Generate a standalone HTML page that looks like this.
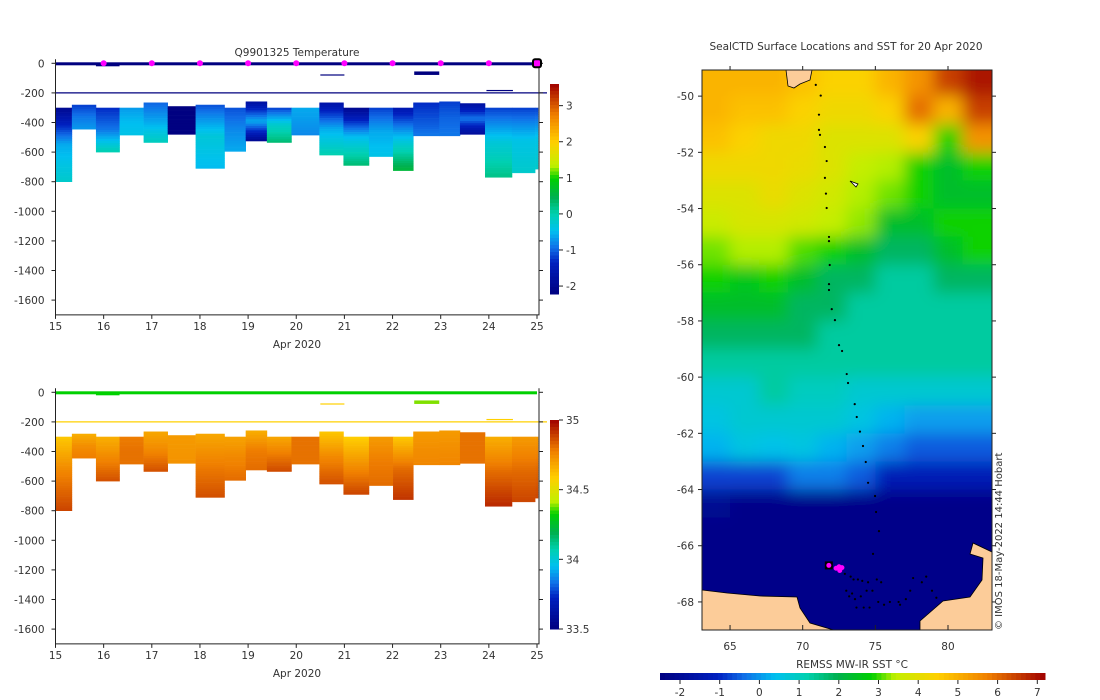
<!DOCTYPE html>
<html><head><meta charset="utf-8"><style>
body{margin:0;background:#fff}
svg{display:block;font-family:"DejaVu Sans","Liberation Sans",sans-serif}
text{fill:#333;font-size:10.5px}
</style></head><body>
<svg id="root" width="1100" height="700" viewBox="0 0 1100 700" xmlns="http://www.w3.org/2000/svg">
<defs>
<clipPath id="mapclip"><rect x="702" y="70" width="290" height="560"/></clipPath>
<filter id="blur" x="-5%" y="-5%" width="110%" height="110%"><feGaussianBlur stdDeviation="8"/></filter>
</defs>
<g id="temp"></g>
<g id="sal"></g>
<g id="map"></g>
</svg>
<script>
// ---- profile data ----
const profStart=[15,15.34,15.84,16.33,16.83,17.33,17.91,18.51,18.95,19.39,19.9,20.48,20.98,21.51,22.01,22.43,22.97,23.4,23.92,24.48,24.96];
const profEnd=[15.34,15.84,16.33,16.83,17.33,17.91,18.51,18.95,19.39,19.9,20.48,20.98,21.51,22.01,22.43,22.97,23.4,23.92,24.48,24.96,25.02];
const profTop=[-300,-280,-300,-300,-265,-290,-280,-300,-258,-300,-300,-265,-300,-300,-300,-265,-258,-270,-300,-300,-300];
const profBottom=[-800,-445,-600,-485,-535,-480,-710,-595,-525,-535,-485,-620,-690,-630,-725,-490,-490,-480,-770,-740,-715];
const tempTop=[-2,-1.2,-1.3,-0.7,-1.0,-2.2,-1.1,-1.1,-1.8,-1.2,-0.6,-1.7,-2.0,-1.2,-1.6,-1.3,-1.2,-1.8,-1.2,-1.2,-1.2];
const tempMid=[-0.6,-0.9,-0.9,-0.5,-0.6,-2.2,-0.3,-0.8,-0.6,-0.2,-0.7,-0.6,-0.5,-0.6,-0.4,-1.1,-1.0,-0.9,-0.3,-0.4,-0.4];
const tempBot=[-0.2,-0.7,0,-0.4,-0.1,-2.2,-0.5,-0.6,-2.0,0.3,-0.8,0,0.3,-0.4,0.6,-0.9,-0.9,-1.9,0.2,-0.2,-0.2];
const salTop=[34.6,34.66,34.66,34.78,34.68,34.71,34.68,34.69,34.66,34.68,34.8,34.6,34.58,34.71,34.6,34.71,34.71,34.8,34.66,34.71,34.71];
const salMid=[34.77,34.74,34.76,34.8,34.76,34.72,34.78,34.76,34.78,34.78,34.8,34.76,34.74,34.78,34.81,34.74,34.74,34.8,34.81,34.81,34.81];
const salBot=[34.88,34.78,34.86,34.8,34.86,34.73,34.86,34.81,34.81,34.87,34.8,34.86,34.88,34.81,34.91,34.76,34.76,34.8,34.93,34.88,34.88];
const dayTicks=[15,16,17,18,19,20,21,22,23,24,25];
const depthTicks=[0,-200,-400,-600,-800,-1000,-1200,-1400,-1600];
const surfaceDays=[16,17,18,19,20,21,22,23,24];
const tempCbTicks=[-2,-1,0,1,2,3];
const salCbTicks=[33.5,34,34.5,35];
const salCbLabels=["33.5","34","34.5","35"];
// ---- SST map data (rows lat -49.5 .. -68.5, cols lon 64..82) ----
const sstLats=[-49.5,-50.5,-51.5,-52.5,-53.5,-54.5,-55.5,-56.5,-57.5,-58.5,-59.5,-60.5,-61.5,-62.5,-63.5,-64.5,-65.5,-66.5,-67.5,-68.5];
const sstLons=[64,66,68,70,72,74,76,78,80,82];
const sstGrid=[
[5,5,5,4.8,4.5,4.5,5,5.5,6.5,7],
[5,4.8,4.8,4.5,4.3,4.3,4.5,6,5,6.5],
[4.8,4.5,4.3,4.3,4,4,4,4.5,3,5.5],
[4.3,4.3,4.3,4.2,4,3.6,3.5,3,2.5,3],
[4,4,4.2,4,3.8,3.5,3.3,3,2.5,2.5],
[3.7,3.9,3.9,3.8,3.6,3.4,2.5,2.5,3,3],
[3.3,3.5,3.5,3.2,3,2.5,2,2,2.5,3],
[3,2.7,3,2.5,2,2,1.5,1.5,2,2],
[2.5,2.5,2.5,2,2,1.5,1.5,1.5,1.5,1.5],
[2,2,2,2,1.5,1.5,1.5,1.5,1.5,1.5],
[1.5,1.5,1.5,1.5,1.5,1.5,1.5,1.5,1.5,1.5],
[1,1,1.5,1.2,1.2,1,1,1,1,1],
[0.8,1,1,1,1,0.8,0.5,0.3,0.3,0.3],
[0.5,0.8,0.7,0.8,0.5,0.3,0,-0.3,-0.3,-0.3],
[-0.5,-0.5,-0.5,0,0,-0.3,-1,-1,-1,-1],
[-1.8,-2,-2,-2,-2,-2,-2,-2,-2,-2],
[-2,-2,-2,-2,-2,-2,-2,-2,-2,-2],
[-2,-2,-2,-2,-2,-2,-2,-2,-2,-2],
[-2,-2,-2,-2,-2,-2,-2,-2,-2,-2],
[-2,-2,-2,-2,-2,-2,-2,-2,-2,-2]];
const trackLon=[70.9,71.24,71.12,71.12,71.19,71.53,71.65,71.53,71.6,71.65,71.81,71.81,71.86,71.81,71.81,72.0,72.22,72.5,72.71,73.03,73.12,73.58,73.72,73.94,74.15,74.34,74.5,74.98,75.05,75.25,74.84,72.9,73.3,73.5,73.8,74.1,74.5,75.1,75.4,73.0,73.2,73.4,73.6,74.0,74.4,74.8,73.7,74.2,74.6,75.2,75.6,76.0,76.6,77.1,77.4,78.2,78.5,78.9,79.2,77.6,76.7];
const trackLat=[-49.6,-49.98,-50.66,-51.2,-51.38,-51.81,-52.31,-52.91,-53.47,-53.98,-55.01,-55.16,-56.01,-56.69,-56.9,-57.58,-57.97,-58.86,-59.07,-59.89,-60.21,-60.96,-61.42,-61.94,-62.45,-63.02,-63.76,-64.23,-64.8,-65.48,-66.29,-67.0,-67.1,-67.2,-67.2,-67.25,-67.3,-67.2,-67.3,-67.6,-67.8,-67.7,-67.9,-67.8,-67.6,-67.6,-68.2,-68.2,-68.2,-68.0,-68.1,-68.0,-68.0,-67.9,-67.6,-67.3,-67.1,-67.6,-67.85,-67.15,-68.1];
const recentLon=[71.8,72.3,72.5,72.7,72.55];
const recentLat=[-66.7,-66.8,-66.75,-66.78,-66.88];
const lonTicks=[65,70,75,80];
const latTicks=[-50,-52,-54,-56,-58,-60,-62,-64,-66,-68];
const sstCbTicks=[-2,-1,0,1,2,3,4,5,6,7];

const NS="http://www.w3.org/2000/svg";
function mk(p,tag,at,txt){const e=document.createElementNS(NS,tag);for(const k in at)e.setAttribute(k,at[k]);if(txt!==undefined)e.textContent=txt;p.appendChild(e);return e;}
const stops=[[0,[0,0,128]],[0.15,[0,32,192]],[0.22,[16,112,232]],[0.3,[0,192,240]],[0.38,[0,208,176]],[0.46,[0,176,80]],[0.55,[0,208,0]],[0.61,[192,240,0]],[0.72,[255,208,0]],[0.85,[240,128,0]],[1,[160,0,0]]];
function cmap(t){t=Math.max(0,Math.min(1,t));for(let i=1;i<stops.length;i++){if(t<=stops[i][0]){const a=stops[i-1],b=stops[i];const f=(t-a[0])/(b[0]-a[0]);const c=a[1].map((v,j)=>Math.round(v+(b[1][j]-v)*f));return `rgb(${c[0]},${c[1]},${c[2]})`;}}return 'rgb(160,0,0)';}

function section(gid,y0,topV,midV,botV,vmin,vmax,surfColor,lineColor,cbTicks,cbLabels,cbTop,cbBot,title){
  const g=document.getElementById(gid);
  const L=55.5,R=537,axR=539;
  const X=d=>L+(d-15)*(R-L)/10;
  const Y=v=>y0+(-v)*29.6/200;
  const axTop=y0-4,axBot=Y(-1700);
  for(let i=0;i<profStart.length;i++){
    const pg=mk(g,'g',{});
    
    
    const t=profTop[i],b=profBottom[i],m=(t+b)/2;
    for(let d=t;d>b;d-=15){
      const dd=Math.max(d-15,b);const c=(d+dd)/2;
      const v=c>m?topV[i]+(midV[i]-topV[i])*(t-c)/(t-m):midV[i]+(botV[i]-midV[i])*(m-c)/(m-b);
      mk(pg,'rect',{x:X(profStart[i]),y:Y(d),width:X(profEnd[i])-X(profStart[i])+0.3,height:Y(dd)-Y(d)+0.3,fill:cmap((v-vmin)/(vmax-vmin))});
    }
  }
  const s=mk(g,'rect',{x:L,y:Y(0)-1,width:R-L,height:3,fill:surfColor});
  
  const l=mk(g,'line',{x1:L,x2:axR+8,y1:Y(-200),y2:Y(-200),stroke:lineColor,'stroke-width':1.3});
  
  mk(g,'rect',{x:X(15.84),y:Y(0),width:X(16.33)-X(15.84),height:3,fill:surfColor});
  mk(g,'rect',{x:X(20.5),y:Y(-75),width:X(21)-X(20.5),height:1.2,fill:lineColor});
  mk(g,'rect',{x:X(22.45),y:Y(-55),width:X(22.97)-X(22.45),height:3.5,fill:gid==='temp'?'#00007f':'#80e000'});
  mk(g,'rect',{x:X(23.95),y:Y(-180),width:X(24.5)-X(23.95),height:1.2,fill:lineColor});
  const ax=mk(g,'path',{d:`M${L},${axTop}V${axBot}H${axR}V${axTop}`,fill:'none',stroke:'#222','stroke-width':1});
  
  depthTicks.forEach(v=>{mk(g,'line',{x1:L-4,x2:L,y1:Y(v),y2:Y(v),stroke:'#222'});mk(g,'line',{x1:axR,x2:axR+4,y1:Y(v),y2:Y(v),stroke:'#222'});
    const t=mk(g,'text',{x:L-11,y:Y(v)+4,'text-anchor':'end'},String(v));});
  dayTicks.forEach(d=>{mk(g,'line',{x1:X(d),x2:X(d),y1:axBot,y2:axBot+4,stroke:'#222'});
    const t=mk(g,'text',{x:X(d),y:axBot+15,'text-anchor':'middle'},d);});
  const xt=mk(g,'text',{x:297,y:axBot+33,'text-anchor':'middle'},'Apr 2020');
  if(title){const tt=mk(g,'text',{x:297,y:56,'text-anchor':'middle','xml:space':'preserve'},title);}
  const cb=mk(g,'g',{});
  const n=60;for(let k=0;k<n;k++){const y1=cbTop+(cbBot-cbTop)*k/n;mk(cb,'rect',{x:550,y:y1,width:9,height:(cbBot-cbTop)/n+0.5,fill:cmap(1-(k+0.5)/n)});}
  const CY=v=>cbBot-(v-vmin)/(vmax-vmin)*(cbBot-cbTop);
  cbTicks.forEach((v,i)=>{mk(cb,'line',{x1:559,x2:563,y1:CY(v),y2:CY(v),stroke:'#222'});mk(cb,'text',{x:566,y:CY(v)+4},cbLabels[i]);});
  if(gid==='temp'){surfaceDays.forEach(d=>{const c=mk(g,'circle',{cx:X(d),cy:Y(0),r:3,fill:'#ff00ff'});});
    const c=mk(g,'rect',{x:X(25)-4,y:Y(0)-4,width:8,height:8,rx:2,fill:'#ff00ff',stroke:'#000','stroke-width':2});}
}
section('temp',63.3,tempTop,tempMid,tempBot,-2.22,3.6,'#00007f','#00007f',tempCbTicks,tempCbTicks.map(String),84,294,'Q9901325  Temperature');
section('sal',392.3,salTop,salMid,salBot,33.5,35,'#00d000','#ffd000',salCbTicks,salCbLabels,420,629,null);

(function(){
  const g=document.getElementById('map');
  const LX=lon=>702+(lon-63.07)*14.53;
  const LY=lat=>70+(-49.07-lat)*28.1;
  const t=mk(g,'text',{x:846,y:50,'text-anchor':'middle'},'SealCTD Surface Locations and SST for 20 Apr 2020');
  
  const cg=mk(g,'g',{'clip-path':'url(#mapclip)'});
  const fg=mk(cg,'g',{filter:'url(#blur)'});
  
  for(let r=0;r<sstLats.length;r++)for(let c=0;c<sstLons.length;c++){
    const x0=LX(sstLons[c]-1)-(c===0?30:0),x1=LX(sstLons[c]+1)+(c===sstLons.length-1?30:0);
    const y0=LY(sstLats[r]+0.5)-(r===0?30:0),y1=LY(sstLats[r]-0.5)+(r===sstLats.length-1?30:0);
    mk(fg,'rect',{x:x0,y:y0,width:x1-x0+0.5,height:y1-y0+0.5,fill:cmap((sstGrid[r][c]+2.2)/9.4)});
  }
  const land=mk(cg,'path',{d:'M702,590 L727,593 L760,596 L797,597 L800,608 L810,623 L837,631 L702,640 Z M920,632 L920,621 L943,601 L970,597 L982,580 L983,558 L970,554 L973,543 L992,552 L992,640 Z',fill:'#fccc99',stroke:'#000','stroke-width':0.8});
  
  const isl=mk(cg,'path',{d:'M786,70 L812,70 L810,80 L800,84 L794,88 L788,86 Z',fill:'#fccc99',stroke:'#000','stroke-width':0.8});
  
  const isl2=mk(cg,'path',{d:'M850,181 L858,184 L856,187 Z',fill:'#fff',stroke:'#000','stroke-width':0.8});
  
  for(let i=0;i<trackLon.length;i++){const d=mk(cg,'circle',{cx:LX(trackLon[i]),cy:LY(trackLat[i]),r:1.1,fill:'#000'});}
  const bx=mk(cg,'rect',{x:LX(recentLon[0])-4,y:LY(recentLat[0])-4,width:8,height:8,fill:'#000'});
  for(let i=0;i<recentLon.length;i++){const d=mk(cg,'circle',{cx:LX(recentLon[i]),cy:LY(recentLat[i]),r:2.5,fill:'#ff00ff'});}
  const fr=mk(g,'rect',{x:702,y:70,width:290,height:560,fill:'none',stroke:'#222'});
  lonTicks.forEach(v=>{mk(g,'line',{x1:LX(v),x2:LX(v),y1:630,y2:625,stroke:'#222'});mk(g,'line',{x1:LX(v),x2:LX(v),y1:70,y2:66,stroke:'#222'});
    const t=mk(g,'text',{x:LX(v),y:650,'text-anchor':'middle'},v);});
  latTicks.forEach(v=>{mk(g,'line',{x1:702,x2:698,y1:LY(v),y2:LY(v),stroke:'#222'});mk(g,'line',{x1:992,x2:996,y1:LY(v),y2:LY(v),stroke:'#222'});
    const t=mk(g,'text',{x:694,y:LY(v)+4,'text-anchor':'end'},v);});
  const cr=mk(g,'text',{x:0,y:0,transform:'translate(1002,630) rotate(-90)',style:'font-size:10px'},'© IMOS 18-May-2022 14:44 Hobart');
  
  const ct=mk(g,'text',{x:852,y:668,'text-anchor':'middle'},'REMSS MW-IR SST °C');
  
  const cb=mk(g,'g',{});
  const CX=v=>680+(v+2)*39.7;
  const x0=660,x1=1045,n=80;
  for(let k=0;k<n;k++){const xa=x0+(x1-x0)*k/n;mk(cb,'rect',{x:xa,y:673,width:(x1-x0)/n+0.5,height:7,fill:cmap((k+0.5)/n)});}
  sstCbTicks.forEach(v=>{mk(cb,'line',{x1:CX(v),x2:CX(v),y1:680,y2:684,stroke:'#222'});mk(cb,'text',{x:CX(v),y:696,'text-anchor':'middle'},v);});
})();
</script>
</body></html>
